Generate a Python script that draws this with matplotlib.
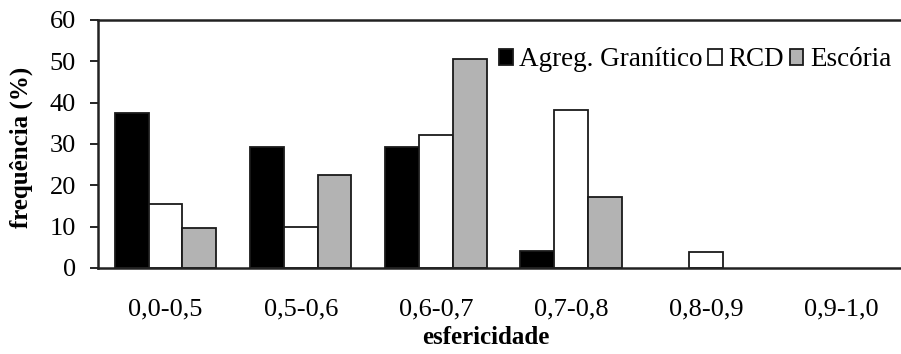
import matplotlib
matplotlib.use("Agg")
import matplotlib.pyplot as plt
import numpy as np

# ---------------------------------------------------------------------------
# dados
# ---------------------------------------------------------------------------
categories = ["0,0-0,5", "0,5-0,6", "0,6-0,7", "0,7-0,8", "0,8-0,9", "0,9-1,0"]
agreg_granitico = [37.6, 29.3, 29.3, 4.2, 0.0, 0.0]
rcd = [15.4, 10.0, 32.1, 38.3, 3.9, 0.0]
escoria = [9.6, 22.4, 50.6, 17.2, 0.0, 0.0]
series_labels = ["Agreg. Granítico", "RCD", "Escória"]
yticks = [0, 10, 20, 30, 40, 50, 60]

plt.rcParams.update({
    "font.family": ["Liberation Serif", "DejaVu Serif"],
    "font.size": 19,
})

fig = plt.figure(figsize=(9.01, 3.54), dpi=100)
ax = fig.add_axes([98 / 901, 1 - 268 / 354, 1 - 98 / 901, 248 / 354])

x = np.arange(len(categories))
width = 0.25
colors = ["#000000", "#ffffff", "#b3b3b3"]
for i, (vals, lab, col) in enumerate(zip([agreg_granitico, rcd, escoria], series_labels, colors)):
    # barras com valor zero não aparecem no original
    lw = [1.3 if v > 0 else 0 for v in vals]
    ax.bar(x + (i - 1) * width, vals, width, color=col, edgecolor="#1a1a1a",
           linewidth=lw, label=lab, zorder=2)

ax.set_xlim(-0.5, 5.44)
ax.set_ylim(0, 60)
ax.set_yticks(yticks)
ax.set_xticks(x)
ax.set_xticklabels(categories)
ax.tick_params(axis="x", length=0, pad=22, labelsize=19)
ax.tick_params(axis="y", length=6, width=1.2, pad=10, direction="out", labelsize=19)

for side in ("left", "bottom", "top"):
    ax.spines[side].set_linewidth(1.8)
    ax.spines[side].set_color("#222222")
ax.spines["right"].set_visible(False)

ax.set_ylabel("frequência (%)", fontweight="bold", fontsize=18)
ax.set_xlabel("esfericidade", fontweight="bold", fontsize=18)
ax.yaxis.set_label_coords(-0.081, 0.488)
ax.xaxis.set_label_coords(0.483, -0.235)

leg = ax.legend(loc="upper right", bbox_to_anchor=(1.008, 0.955), ncol=3, frameon=False,
                fontsize=19.5, handlelength=0.5, handleheight=0.5, handletextpad=0.25,
                columnspacing=0.2, borderaxespad=0.2)
for h in leg.legend_handles:
    h.set_linewidth(1.3)

fig.savefig("out.png", dpi=100)
